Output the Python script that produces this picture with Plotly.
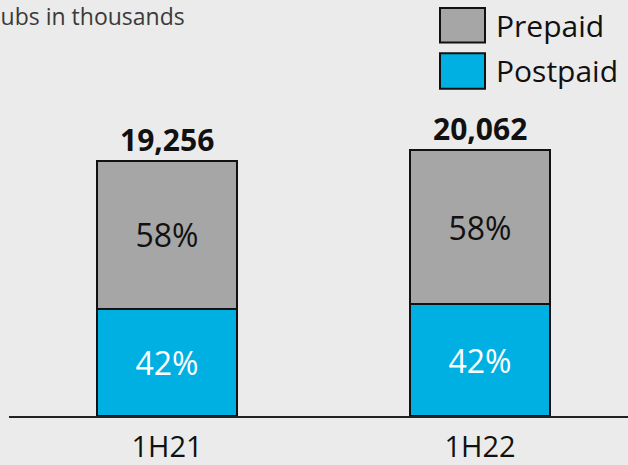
import plotly.graph_objects as go

categories = ["1H21", "1H22"]
postpaid = [8088, 8426]
prepaid = [11168, 11636]
totals = [19256, 20062]
postpaid_pct = ["42%", "42%"]
prepaid_pct = ["58%", "58%"]
series_names = ["Prepaid", "Postpaid"]
title_text = "Subs in thousands"

GRAY = "#a6a6a6"
BLUE = "#00b0e3"
BG = "#ebebeb"
FONT = "Open Sans"

fig = go.Figure()
fig.add_trace(go.Bar(
    x=categories, y=postpaid, name=series_names[1],
    marker=dict(color=BLUE, line=dict(color="#111111", width=2)),
    text=postpaid_pct, textposition="inside", insidetextanchor="middle",
    textfont=dict(family=FONT, size=32, color="white"),
    width=0.447, showlegend=False,
))
fig.add_trace(go.Bar(
    x=categories, y=prepaid, name=series_names[0],
    marker=dict(color=GRAY, line=dict(color="#111111", width=2)),
    text=prepaid_pct, textposition="inside", insidetextanchor="middle",
    textfont=dict(family=FONT, size=32, color="#111111"),
    width=0.447, showlegend=False,
))

pw, ph = 628 - 9, 465 - 43
def px_x(p):
    return (p - 9) / pw
def px_y(p):
    return 1 - p / ph

annotations = []
for c, t in zip(categories, totals):
    annotations.append(dict(
        x=c, y=t, xref="x", yref="y", text="<b>{:,}</b>".format(t),
        showarrow=False, yanchor="bottom", xanchor="center", yshift=-1,
        font=dict(family=FONT, size=30, color="#111111"),
    ))

# title (cut at left edge)
annotations.append(dict(
    x=px_x(-14), y=px_y(16), xref="paper", yref="paper", text=title_text,
    showarrow=False, xanchor="left", yanchor="middle",
    font=dict(family=FONT, size=23, color="#3a3a3a"),
))

shapes = []
legend_colors = [GRAY, BLUE]
legend_boxes = [(8, 43), (54, 90)]
for name, col, (y0, y1) in zip(series_names, legend_colors, legend_boxes):
    shapes.append(dict(
        type="rect", xref="paper", yref="paper",
        x0=px_x(440), x1=px_x(485), y0=px_y(y1), y1=px_y(y0),
        fillcolor=col, line=dict(color="#111111", width=2),
    ))
    annotations.append(dict(
        x=px_x(494), y=px_y((y0 + y1) / 2), xref="paper", yref="paper",
        text=name, showarrow=False, xanchor="left", yanchor="middle",
        font=dict(family=FONT, size=30, color="#111111"),
    ))

fig.update_layout(
    width=628, height=465,
    margin=dict(l=9, r=0, t=0, b=43),
    paper_bgcolor=BG, plot_bgcolor=BG,
    barmode="stack",
    font=dict(family=FONT),
    xaxis=dict(
        type="category", range=[-0.505, 1.473],
        showline=True, linecolor="#222222", linewidth=1.5,
        ticks="", showgrid=False, zeroline=False,
        ticklabelstandoff=4,
        tickfont=dict(family=FONT, size=29, color="#111111"),
    ),
    yaxis=dict(
        range=[0, 31376], visible=False, showgrid=False, zeroline=False,
    ),
    annotations=annotations, shapes=shapes,
)

fig.write_html(
    "out.html",
    config={"displayModeBar": False},
    post_script="document.body.style.margin='0';document.body.style.overflow='hidden';",
)
